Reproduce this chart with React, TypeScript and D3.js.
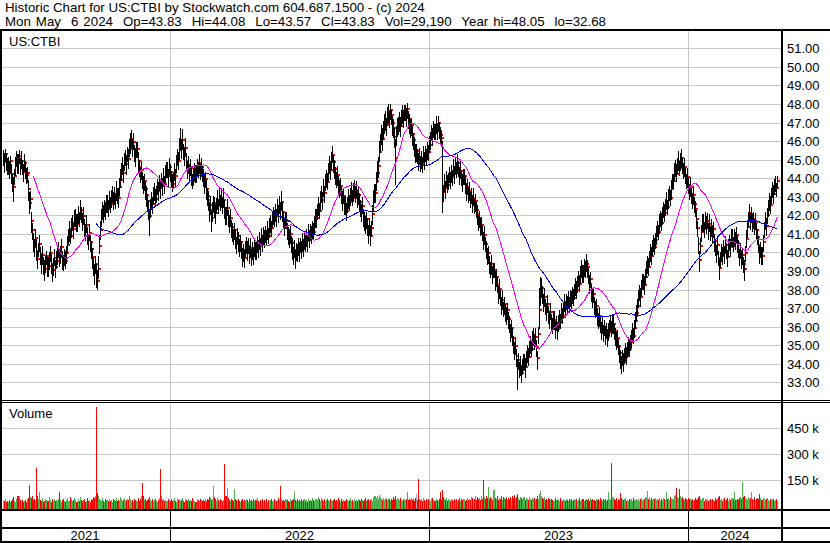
import React from 'react';
import * as d3 from 'd3';

// ---- Data ----
const headerLine1 = 'Historic Chart for US:CTBI by Stockwatch.com 604.687.1500 - (c) 2024';
const headerLine2 = 'Mon May  6 2024  Op=43.83  Hi=44.08  Lo=43.57  Cl=43.83  Vol=29,190  Year hi=48.05  lo=32.68';
const symbolLabel = 'US:CTBI';
const volumeLabel = 'Volume';
const yearLabels = ['2021', '2022', '2023', '2024'];
const priceTicks = [33, 34, 35, 36, 37, 38, 39, 40, 41, 42, 43, 44, 45, 46, 47, 48, 49, 50, 51];
const volumeTicks = [150, 300, 450]; // thousands
const maShortDays = 30;
const maLongDays = 90;

// daily closes, one array per calendar year shown
const closes2021 = [
  45.10, 44.85, 45.30, 44.95, 44.60, 44.72, 44.40, 44.90, 44.25, 43.80,
  43.55, 44.10, 44.65, 45.05, 44.80, 45.20, 44.70, 44.95, 44.60, 44.35,
  44.80, 44.50, 44.15, 44.30, 43.40, 42.65, 42.90, 41.70, 41.20, 40.55,
  40.30, 40.75, 40.10, 39.65, 40.20, 40.45, 39.90, 39.50, 39.85, 39.35,
  39.10, 39.45, 39.80, 39.25, 39.60, 39.95, 39.40, 39.05, 39.30, 39.70,
  39.20, 39.55, 39.90, 40.15, 39.75, 39.85, 40.30, 39.60, 39.45, 39.80,
  39.55, 39.95, 40.40, 40.85, 41.10, 40.90, 41.35, 41.60, 41.25, 41.80,
  41.95, 41.55, 42.10, 41.85, 42.30, 42.05, 41.70, 41.95, 41.40, 41.15,
  41.50, 40.95, 40.70, 41.05, 40.55, 40.20, 39.75, 39.30, 38.90, 39.40,
  38.85, 38.45, 39.10, 40.35, 41.20, 41.85, 42.30, 42.05, 42.45, 42.20,
  42.70, 42.35, 42.90, 42.60, 42.85, 43.20, 42.75, 43.10, 42.80, 43.35,
  43.05, 42.95, 43.50, 43.90, 44.40, 44.65, 44.30, 44.85, 45.10, 44.75,
  45.30, 45.05, 45.60, 45.85, 46.10, 45.70, 45.95, 45.40, 45.15, 45.55,
  44.90, 44.60, 44.20, 44.45, 43.95, 43.60, 43.85, 43.40, 43.10, 42.75,
  42.30, 41.95, 42.40, 42.85, 42.60, 43.05, 43.35, 42.90, 43.20, 43.55,
  43.30, 43.75, 43.45, 43.90, 43.60, 44.05, 43.70, 44.20, 44.45, 44.10,
  44.60, 44.35,
];
const closes2022 = [
  44.00, 43.70, 43.95, 44.30, 44.10, 44.75, 45.20, 44.90, 45.55, 45.90,
  45.60, 46.05, 45.45, 45.20, 45.65, 44.95, 44.50, 44.70, 44.30, 44.55,
  44.15, 43.85, 44.05, 44.40, 44.20, 44.65, 44.45, 44.80, 44.35, 44.60,
  44.25, 44.10, 43.70, 43.95, 43.40, 43.05, 42.80, 42.30, 42.55, 41.85,
  42.20, 42.65, 42.40, 42.10, 42.55, 42.85, 42.50, 43.05, 42.70, 42.95,
  42.60, 42.85, 42.35, 42.05, 42.40, 41.90, 41.60, 41.85, 41.35, 41.10,
  40.85, 41.20, 40.75, 40.45, 40.90, 40.60, 40.30, 40.55, 40.10, 39.85,
  40.05, 39.70, 40.20, 40.45, 40.10, 40.35, 39.95, 40.25, 39.80, 40.05,
  39.90, 40.30, 40.05, 40.50, 40.25, 40.60, 40.35, 40.80, 40.55, 40.95,
  40.70, 41.05, 40.80, 41.20, 40.90, 41.35, 41.60, 41.30, 41.75, 42.05,
  41.80, 42.20, 41.95, 42.40, 42.15, 42.55, 42.30, 42.70, 42.20, 41.85,
  41.45, 41.70, 41.20, 40.95, 40.70, 41.00, 40.50, 40.25, 39.90, 40.15,
  39.75, 40.10, 39.95, 40.35, 40.05, 40.40, 40.20, 40.55, 40.30, 40.70,
  40.45, 40.85, 40.60, 41.05, 40.80, 41.15, 40.90, 41.30, 41.10, 41.55,
  41.85, 42.20, 42.50, 42.25, 42.80, 43.10, 42.85, 43.45, 43.20, 43.75,
  44.05, 43.80, 44.40, 44.70, 44.45, 45.00, 45.25, 44.85, 44.50, 44.20,
  43.95, 44.15, 43.70, 43.40, 43.60, 43.15, 42.80, 43.05, 42.55, 42.25,
  42.60, 42.90, 42.70, 43.05, 43.30, 42.95, 43.25, 43.50, 43.20, 43.35,
  42.95, 43.10, 42.70, 42.45, 42.20, 42.50, 41.95, 41.70, 41.55, 41.80,
  41.35, 41.10, 41.45, 40.90, 41.30, 42.05, 42.75, 43.20, 43.85, 44.30,
  44.65, 45.40, 45.90, 46.35, 46.10, 46.60, 46.95, 47.20, 46.85, 47.35,
  47.60, 47.25, 47.70, 47.40, 46.95, 46.70, 46.20, 45.10, 46.40, 46.75,
  46.90, 47.15, 46.80, 47.30, 47.55, 47.25, 47.65, 47.40, 47.75, 47.20,
  47.05, 46.70, 46.85, 46.40, 46.05, 45.70, 45.45, 45.45, 45.20, 44.95,
  45.15, 44.80, 45.05, 44.75, 45.25, 45.00, 45.35, 45.10, 45.55, 45.40, 45.80,
];
const closes2023 = [
  46.10, 46.45, 46.20, 46.70, 46.50, 46.85, 46.60, 46.95, 46.55, 46.35,
  46.15, 43.60, 43.25, 43.70, 43.45, 44.00, 43.65, 43.90, 44.20, 43.85,
  44.30, 44.05, 44.55, 44.25, 44.70, 44.45, 44.80, 44.50, 44.20, 44.40,
  44.05, 43.80, 44.10, 43.60, 43.35, 43.55, 43.10, 43.30, 42.85, 43.05,
  42.70, 42.95, 42.50, 42.75, 42.30, 42.05, 41.60, 41.85, 41.35, 41.50,
  41.05, 40.70, 40.95, 40.45, 40.20, 39.75, 39.95, 39.40, 39.10, 39.35,
  38.85, 39.05, 38.50, 38.70, 38.25, 37.80, 38.05, 37.55, 37.20, 37.45,
  36.95, 37.20, 36.80, 36.55, 36.90, 36.40, 36.10, 35.75, 35.95, 35.40,
  35.10, 34.75, 34.95, 34.40, 33.95, 34.20, 33.70, 33.90, 33.50, 33.85,
  34.15, 33.80, 34.30, 34.60, 34.35, 34.85, 35.10, 34.80, 35.25, 35.50,
  35.20, 35.45, 34.90, 34.30, 35.60, 36.90, 37.65, 38.10, 37.70, 37.35,
  37.60, 37.10, 36.85, 37.20, 36.70, 36.45, 36.80, 36.30, 36.05, 36.35,
  35.90, 36.20, 35.85, 36.15, 36.50, 36.30, 36.75, 36.60, 36.95, 37.25,
  37.00, 37.35, 37.15, 37.50, 37.20, 37.60, 37.40, 37.75, 37.55, 37.90,
  38.20, 37.95, 38.35, 38.60, 38.30, 38.85, 39.10, 38.80, 39.25, 39.05,
  39.40, 39.20, 38.75, 38.30, 38.55, 37.90, 37.55, 37.75, 37.20, 36.90,
  37.10, 36.60, 36.35, 36.55, 36.10, 35.85, 36.05, 35.70, 35.95, 35.55,
  35.80, 35.45, 35.70, 35.95, 36.25, 35.90, 36.15, 35.75, 35.50, 35.20,
  35.40, 34.95, 34.60, 34.25, 34.00, 34.35, 34.10, 34.45, 34.70, 34.40,
  34.75, 35.05, 34.80, 35.15, 35.40, 35.70, 35.50, 35.95, 36.30, 36.75,
  37.10, 37.45, 37.85, 37.60, 38.10, 38.45, 38.25, 38.70, 39.05, 39.40,
  39.20, 39.70, 40.05, 39.80, 40.25, 40.55, 40.30, 40.65, 40.95, 41.30,
  41.10, 41.55, 41.85, 41.60, 42.05, 42.30, 42.10, 42.50, 42.75, 42.45,
  42.90, 43.20, 42.95, 43.40, 43.85, 44.30, 44.60, 44.25, 44.70, 44.95,
  44.55, 44.85, 45.10, 44.70, 44.40, 44.60, 44.15, 43.85, 44.05, 43.60,
];
const closes2024 = [
  43.30, 43.55, 43.05, 42.80, 43.10, 42.60, 42.35, 41.80, 41.30, 40.45,
  39.60, 40.35, 41.10, 41.55, 41.25, 41.80, 41.45, 41.70, 41.20, 41.55,
  41.05, 41.40, 40.90, 41.25, 40.60, 40.25, 39.90, 40.40, 39.70, 39.15,
  39.60, 40.05, 39.80, 40.25, 39.95, 40.40, 40.10, 39.75, 40.20, 40.55,
  40.30, 40.75, 40.45, 40.85, 40.60, 40.95, 40.50, 40.15, 39.80, 40.10,
  39.55, 39.85, 39.35, 39.10, 39.95, 40.70, 41.35, 41.80, 42.10, 41.75,
  42.05, 41.55, 41.80, 41.40, 41.65, 41.20, 40.85, 40.40, 39.95, 40.15,
  39.80, 40.55, 41.25, 41.70, 41.45, 42.00, 42.35, 42.80, 42.55, 43.05,
  43.40, 43.15, 43.55, 43.70, 43.45, 43.83,
];

// daily high above close and low below close, in tenths of a dollar
const highAboveTenths = [
  4,5,3,4,5,4,5,3,5,4, 5,4,5,4,5,3,4,5,4,4, 5,4,4,3,5,6,4,5,4,5, 4,5,6,4,3,5,4,4,5,4,
  5,4,3,5,4,4,5,3,4,5, 4,5,4,4,3,5,4,5,4,4, 5,4,5,4,6,4,5,4,4,5, 4,5,4,3,5,4,4,5,4,4,
  5,4,3,5,4,4,5,4,5,4, 5,6,7,6,5,5,4,5,4,5, 4,5,4,4,5,4,5,4,4,5, 4,5,5,6,4,5,4,5,4,5,
  4,5,5,6,5,4,5,4,5,4, 5,4,4,5,4,5,4,4,5,4, 5,4,5,4,4,5,4,5,4,4, 5,4,5,4,4,5,4,5,4,4,
  5,4,4,5,4,5,4,5,4,5, 6,8,5,6,4,5,5,4,4,5, 4,5,4,4,5,4,5,4,4,5, 4,5,4,4,5,4,5,4,5,4,
  5,4,5,4,6,5,4,5,4,5, 4,5,4,6,5,4,5,4,4,5, 4,5,4,4,5,4,4,5,4,4, 5,4,4,5,4,4,5,4,4,5,
  4,5,4,4,5,4,4,5,4,5, 4,4,5,4,4,5,4,5,4,4, 5,4,5,4,4,5,4,5,4,6, 5,4,4,5,4,4,5,4,4,5,
  4,5,4,4,5,4,5,4,4,5, 4,4,5,4,4,5,4,4,5,4, 5,4,5,4,5,4,5,5,4,5, 4,5,4,5,4,5,5,4,5,4,
  5,4,4,5,4,5,4,4,5,4, 5,4,4,5,4,4,5,4,5,4, 4,5,4,4,5,4,4,5,4,5, 4,4,5,4,4,5,4,5,6,5,
  5,6,5,6,5,5,6,5,5,4, 4,5,4,4,3,3,4,5,5,10, 4,5,4,4,5,4,4,4,3,4, 3,4,4,5,4,4,4,5,4,4,
  4,4,5,4,4,4,5,4,4,5, 4,4,5,4,4,5,4,4,5,4, 4,5,4,4,24,4,5,4,4,5, 4,4,5,4,4,5,4,4,4,5,
  4,4,5,4,4,4,5,4,4,4, 5,4,4,4,5,4,4,4,5,4, 4,5,4,4,4,5,4,4,5,4, 4,4,5,4,4,5,4,4,4,5,
  4,4,5,4,4,4,5,4,4,5, 4,4,5,4,4,5,4,3,4,4, 5,4,4,4,5,4,4,5,4,4, 4,5,4,4,5,4,4,4,12,10,
  5,5,4,5,4,4,5,4,4,5, 4,4,5,4,4,4,5,4,4,5, 4,4,5,4,4,5,4,4,4,5, 4,5,4,4,5,4,4,5,4,5,
  5,4,5,5,4,4,5,4,4,5, 4,4,5,4,4,4,5,4,4,5, 4,4,5,4,4,5,4,4,4,5, 4,4,5,4,4,4,5,4,4,5,
  4,4,5,4,4,5,4,4,5,4, 4,5,4,4,5,4,5,4,4,5, 4,5,4,5,4,4,5,4,4,5, 4,5,4,4,5,4,5,4,4,5,
  4,5,4,5,4,4,5,4,5,4, 5,4,5,4,5,5,4,4,5,4, 4,5,4,4,5,4,4,5,4,4, 5,4,4,5,4,4,5,4,4,5,
  4,4,5,4,4,5,4,4,4,5, 4,4,5,4,4,5,4,4,5,4, 4,5,4,4,5,4,4,5,4,4, 5,4,4,5,4,4,5,4,5,4,
  4,5,4,4,5,4,4,5,4,4, 5,4,4,5,4,4,5,4,4,5, 4,5,4,4,5,4,4,3,3,
];
const lowBelowTenths = [
  4,5,4,5,4,5,4,6,5,5, 8,4,5,4,5,4,5,4,4,5, 4,5,4,5,6,5,5,6,5,5, 5,4,5,5,4,4,5,6,5,5,
  6,5,4,5,5,4,5,6,5,4, 5,4,5,4,5,4,5,5,4,5, 4,5,4,4,5,4,5,4,5,4, 5,4,5,4,5,4,5,4,5,5,
  4,5,5,4,5,5,6,5,6,5, 7,4,5,4,5,4,5,4,5,4, 5,4,5,4,4,5,4,5,4,5, 4,5,4,4,5,4,5,4,4,5,
  4,5,4,5,4,5,4,5,5,4, 5,5,4,5,5,4,5,5,6,5, 5,10,5,4,5,4,5,4,5,4, 5,4,5,4,5,4,5,4,4,5,
  4,5,5,4,5,4,5,4,5,4, 5,4,5,5,4,5,4,5,5,4, 5,4,5,4,4,5,4,5,4,5, 4,5,4,5,5,4,5,5,5,6,
  5,7,5,4,5,5,4,5,4,5, 4,5,5,4,5,5,4,5,5,4, 5,5,4,5,5,5,4,5,5,5, 4,6,5,5,4,5,5,4,5,5,
  5,4,5,5,4,5,5,4,5,4, 5,5,4,5,4,5,4,5,5,4, 4,5,4,5,5,4,5,4,5,4, 5,5,5,4,5,5,4,5,5,6,
  5,4,6,5,4,5,5,4,5,5, 5,5,4,5,5,4,5,5,4,5, 4,5,5,4,5,4,5,4,5,4, 5,4,5,4,5,4,5,5,4,5,
  5,5,4,5,5,4,5,5,5,4, 5,5,4,5,4,5,5,4,5,5, 5,4,5,5,4,5,5,4,5,5, 5,5,4,6,5,5,4,5,5,5,
  5,5,6,5,5,5,6,5,5,6, 5,5,6,5,5,5,6,5,5,14, 6,5,5,6,5,5,6,5,5,6, 5,5,6,5,5,6,5,5,6,5,
  4,5,4,4,5,4,4,5,4,4, 5,4,4,5,4,4,5,4,4,5, 4,4,5,4,14,5,4,5,4,4, 5,4,4,5,4,4,5,4,4,5,
  4,5,4,4,5,4,4,5,4,4, 5,4,4,5,4,4,5,4,5,4, 5,4,5,4,5,5,4,5,4,5, 5,4,5,5,4,5,5,4,5,5,
  4,5,5,4,5,5,4,5,5,4, 5,5,4,5,5,4,5,13,5,4, 5,5,4,5,5,4,5,4,5,5, 4,5,5,4,5,5,6,5,10,5,
  5,4,5,5,4,5,4,5,5,4, 5,4,5,5,4,5,4,5,4,5, 4,5,4,5,4,4,5,4,5,4, 5,4,4,5,4,5,4,4,5,4,
  4,5,4,4,5,4,5,4,5,5, 4,5,4,5,5,4,5,4,5,4, 5,4,5,4,5,4,4,5,4,5, 4,5,4,5,4,5,5,5,4,5,
  4,5,4,4,5,4,4,5,4,4, 5,4,4,5,4,4,5,4,4,5, 4,4,5,4,4,5,4,4,5,4, 4,5,4,4,5,4,4,5,4,4,
  5,4,4,5,4,4,5,4,4,5, 4,4,5,4,4,5,4,4,5,4, 4,5,4,4,5,4,4,5,4,4, 5,4,5,6,4,5,4,4,5,4,
  4,5,4,4,5,4,4,5,4,4, 5,4,6,4,5,4,4,5,4,4, 5,4,4,5,4,4,5,4,4,5, 4,5,4,4,5,4,6,4,4,5,
  4,4,5,4,4,5,4,4,5,4, 4,5,4,4,5,4,4,5,4,4, 5,4,4,4,5,4,4,4,3,
];

// daily volume, thousands of shares
const volumeThousands = [
  35,28,41,22,30,25,38,27,33,45, 52,31,26,40,58,62,34,29,37,24, 30,36,27,42,48,125,55,47,60,39,
  44,36,223,58,41,84,38,33,49,27, 31,42,36,29,53,37,26,40,33,45, 28,35,30,41,80,39,27,36,44,32,
  25,38,46,33,29,52,40,31,37,48, 35,27,43,30,56,38,29,34,41,26, 33,47,30,38,25,42,36,55,49,61,
  572,74,58,45,39,33,48,30,27,41, 36,29,44,32,38,26,40,35,31,47, 29,37,33,52,43,30,39,46,28,35,
  41,34,58,45,31,38,27,44,36,30, 49,33,40,62,136,57,35,42,29,38, 45,55,37,31,43,28,36,40,33,26,
  39,47,215,60,34,41,30,37,29,44, 35,28,42,31,38,50,33,27,45,36, 40,29,37,48,32,26,41,35,30,43,
  28,36,33,46,39,30,27,44,37,31, 42,35,29,38,33,45,30,41,36,52, 47,38,44,117,56,40,33,48,37,29,
  42,35,30,39,244,58,105,46,38,31, 40,35,29,100,44,36,30,42,33,27, 38,45,31,36,29,40,34,27,43,32,
  36,30,41,28,35,47,33,26,39,31, 44,29,37,32,40,27,35,30,38,45, 33,28,42,36,30,39,48,34,118,41,
  32,37,29,44,35,30,26,40,33,38, 45,88,36,31,42,29,37,33,40,28, 35,44,30,38,27,41,33,36,29,46,
  38,31,43,35,52,40,30,47,36,33, 41,29,38,45,34,30,42,37,28,36, 44,33,39,30,48,35,27,40,32,37,
  29,42,35,31,38,46,30,36,27,43, 33,39,28,45,36,30,41,34,29,38, 47,32,36,40,29,35,43,31,55,62,
  48,57,44,66,52,41,38,47,35,50, 43,36,49,40,33,45,38,52,44,60, 37,46,41,35,48,39,32,44,36,41,
  80,34,43,38,47,35,40,33,46,70, 39,157,44,36,41,33,48,37,30,42, 35,45,38,32,40,46,34,29,43,37,
  31,44,80,39,95,52,41,36,47,33, 40,35,29,43,38,31,45,36,42,30, 37,48,33,40,35,44,30,39,46,34,
  41,38,55,47,36,43,60,39,52,45, 48,37,58,44,150,51,40,62,47,110, 43,55,49,38,95,46,41,57,36,50,
  44,61,39,53,47,42,56,38,49,45, 52,40,58,47,63,44,51,72,48,39, 55,46,41,53,37,49,44,35,51,42,
  38,47,43,50,36,41,62,45,73,90, 58,47,40,52,38,45,34,49,41,36, 44,37,31,46,39,35,42,30,48,37,
  33,41,36,29,45,38,32,40,35,43, 30,37,44,34,41,28,39,46,33,36, 42,31,38,45,35,40,29,48,37,43,
  34,39,30,44,36,41,33,47,38,29, 40,35,43,31,37,80,45,39,250,52, 41,36,47,33,42,38,75,49,44,35,
  40,46,33,38,31,44,36,41,29,47, 39,34,42,37,45,33,40,48,36,43, 51,46,88,42,55,38,47,36,44,40,
  49,35,42,38,46,33,41,37,50,44, 39,85,43,48,36,52,45,41,57,63, 104,55,48,100,61,47,53,44,38,46,
  42,35,49,40,45,36,43,31,39,47, 34,44,52,58,41,37,46,33,40,35, 43,30,38,45,34,41,36,29,47,38,
  42,55,60,37,44,33,40,48,35,39, 46,31,43,37,50,42,85,39,34,45, 38,47,52,41,140,56,62,49,44,37,
  53,42,47,80,45,39,51,36,43,48, 41,70,46,38,50,44,35,42,47,39, 33,45,40,37,44,31,36,40,29,
];

// ---- Layout ----
const W = 830;
const H = 543;
const FONT = '"Liberation Sans", Arial, sans-serif';
const plotLeft = 2;
const plotRight = 781;
const priceTop = 31;
const priceBottom = 400;
const volTop = 403;
const volBottom = 509;
const GRID = '#c8c8c8';
const UP = '#4cb44c';
const DOWN = '#ff0000';
const FLAT = '#a8a8a8';

export default function App() {
  const closes = [...closes2021, ...closes2022, ...closes2023, ...closes2024];
  const n = closes.length;
  const yearStarts = [0, closes2021.length, closes2021.length + closes2022.length,
    closes2021.length + closes2022.length + closes2023.length];

  const x = d3.scaleLinear().domain([0, n - 1]).range([3, 777]);
  const yP = d3.scaleLinear().domain([33, 51]).range([382.3, 48.3]);
  const yV = d3.scaleLinear().domain([0, 450000]).range([506.3, 428.3]);
  const px = (i: number) => Math.round(x(i));

  const priceMarks: React.ReactNode[] = [];
  closes.forEach((c, i) => {
    const hi = c + (highAboveTenths[i] ?? 0) / 10;
    const lo = c - (lowBelowTenths[i] ?? 0) / 10;
    const bx = px(i);
    const nx = i < n - 1 ? px(i + 1) : bx + 1;
    const yt = Math.round(yP(hi));
    const yb = Math.round(yP(lo));
    const yc = Math.round(yP(c));
    priceMarks.push(<rect key={'b' + i} x={bx} y={yt} width={Math.max(1, nx - bx)} height={Math.max(1, yb - yt + 1)} fill="#000" />);
    priceMarks.push(<rect key={'c' + i} x={nx} y={yc - 1} width={2} height={2} fill="#ff0000" />);
  });

  const volMarks = closes.map((c, i) => {
    const v = (volumeThousands[i] ?? 0) * 1000;
    const bx = px(i);
    const nx = i < n - 1 ? px(i + 1) : bx + 1;
    const prev = i > 0 ? closes[i - 1] : c;
    const col = c > prev ? UP : c < prev ? DOWN : FLAT;
    const yt = Math.round(yV(v));
    return <rect key={'v' + i} x={bx} y={yt} width={Math.max(1, nx - bx)} height={volBottom - yt} fill={col} />;
  });

  const sma = (N: number) => closes.map((_, i) => (i < N - 1 ? null : (d3.mean(closes.slice(i - N + 1, i + 1)) as number)));
  const maLine = d3.line<number | null>()
    .defined((d) => d != null)
    .x((_, i) => px(i) + 0.5)
    .y((d) => yP(d as number));
  const maShort = maLine(sma(maShortDays)) || '';
  const maLong = maLine(sma(maLongDays)) || '';

  const sepX = yearStarts.slice(1).map((s) => px(s) - 1);
  const bounds = [0, ...sepX, plotRight + 1];

  return (
    <div style={{ position: 'absolute', left: 0, top: 0 }}>
      <svg width={W} height={H} style={{ display: 'block', fontFamily: FONT }}>
        <rect x={0} y={0} width={W} height={H} fill="#fff" />
        <text x={5} y={12} fontSize={13.3} fill="#000" style={{ whiteSpace: 'pre' }}>{headerLine1}</text>
        <text x={5} y={26} fontSize={13.3} fill="#000" style={{ whiteSpace: 'pre', wordSpacing: '1.3px' }}>{headerLine2}</text>

        {/* grid */}
        <g shapeRendering="crispEdges">
          {priceTicks.map((t) => (
            <line key={'pg' + t} x1={plotLeft} x2={plotRight} y1={Math.round(yP(t)) + 0.5} y2={Math.round(yP(t)) + 0.5} stroke={GRID} strokeWidth={1} />
          ))}
          {volumeTicks.map((t) => (
            <line key={'vg' + t} x1={plotLeft} x2={plotRight} y1={Math.round(yV(t * 1000)) + 0.5} y2={Math.round(yV(t * 1000)) + 0.5} stroke={GRID} strokeWidth={1} />
          ))}
          {sepX.map((sx) => (
            <g key={'sx' + sx}>
              <line x1={sx + 0.5} x2={sx + 0.5} y1={priceTop} y2={priceBottom} stroke={GRID} />
              <line x1={sx + 0.5} x2={sx + 0.5} y1={volTop} y2={volBottom} stroke={GRID} />
            </g>
          ))}
        </g>

        <clipPath id="priceClip"><rect x={plotLeft} y={priceTop} width={plotRight - plotLeft} height={priceBottom - priceTop} /></clipPath>
        <g clipPath="url(#priceClip)" shapeRendering="crispEdges">
          {priceMarks}
          <path d={maShort} fill="none" stroke="#ff00ff" strokeWidth={1} />
          <path d={maLong} fill="none" stroke="#0000ff" strokeWidth={1} />
        </g>
        <g shapeRendering="crispEdges">{volMarks}</g>

        {/* frame */}
        <g shapeRendering="crispEdges" fill="#000">
          <rect x={0} y={29} width={W} height={2} />
          <rect x={0} y={29} width={2} height={H - 29} />
          <rect x={plotRight} y={29} width={2} height={H - 29} />
          <rect x={0} y={400} width={W} height={1} />
          <rect x={0} y={402} width={W} height={1} />
          <rect x={0} y={509} width={W} height={2} />
          <rect x={0} y={527} width={W} height={2} />
          <rect x={0} y={541} width={W} height={2} />
          {sepX.map((sx) => (
            <rect key={'ys' + sx} x={sx} y={511} width={1} height={30} />
          ))}
        </g>

        <text x={9} y={46} fontSize={13} fill="#000">{symbolLabel}</text>
        <text x={9} y={418} fontSize={13} fill="#000">{volumeLabel}</text>

        {priceTicks.map((t) => (
          <text key={'pl' + t} x={787} y={Math.round(yP(t)) + 5} fontSize={13} fill="#000">{t.toFixed(2)}</text>
        ))}
        {volumeTicks.map((t) => (
          <text key={'vl' + t} x={787} y={Math.round(yV(t * 1000)) + 5} fontSize={13} fill="#000" style={{ whiteSpace: 'pre' }}>{`${t} k`}</text>
        ))}
        {yearLabels.map((lab, k) => (
          <text key={lab} x={(bounds[k] + bounds[k + 1]) / 2} y={540} fontSize={13} fill="#000" textAnchor="middle">{lab}</text>
        ))}
      </svg>
    </div>
  );
}
